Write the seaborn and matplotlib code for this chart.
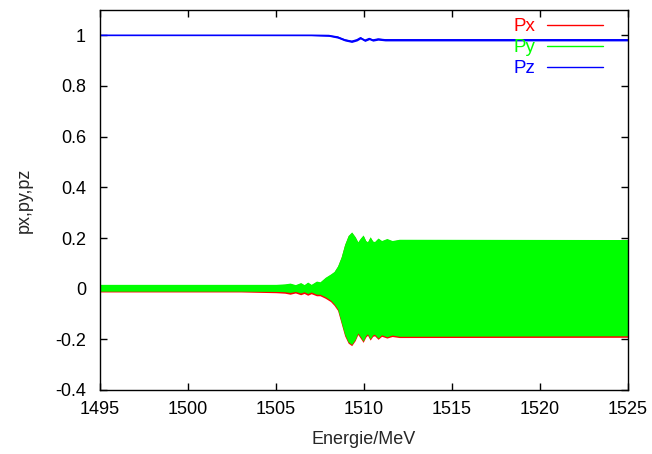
import matplotlib
matplotlib.use("Agg")
import matplotlib.pyplot as plt
from matplotlib.lines import Line2D
import seaborn as sns
import pandas as pd

# Envelope of the fast px / py oscillation
energy = [1495, 1503, 1505.0, 1505.5, 1505.8, 1506.1, 1506.4, 1506.6, 1506.8, 1507.0,
          1507.3, 1507.5, 1507.8, 1508.1, 1508.3, 1508.5, 1508.7, 1508.9, 1509.1, 1509.3,
          1509.5, 1509.65, 1509.8, 1509.95, 1510.1, 1510.2, 1510.35, 1510.5, 1510.6, 1510.8,
          1511.0, 1511.3, 1511.6, 1512.0, 1525]
py_upper = [0.017, 0.017, 0.017, 0.019, 0.022, 0.016, 0.024, 0.016, 0.026, 0.017,
            0.030, 0.027, 0.045, 0.058, 0.068, 0.090, 0.125, 0.175, 0.210, 0.224,
            0.205, 0.185, 0.200, 0.212, 0.190, 0.185, 0.205, 0.188, 0.186, 0.200,
            0.190, 0.198, 0.190, 0.195, 0.194]
py_lower = [-0.010, -0.010, -0.011, -0.012, -0.015, -0.011, -0.017, -0.012, -0.019, -0.013,
            -0.022, -0.022, -0.032, -0.045, -0.060, -0.080, -0.130, -0.180, -0.210, -0.220,
            -0.200, -0.175, -0.190, -0.207, -0.185, -0.178, -0.198, -0.182, -0.180, -0.195,
            -0.182, -0.190, -0.183, -0.188, -0.186]
px_upper = [0.015, 0.015, 0.015, 0.017, 0.020, 0.014, 0.022, 0.014, 0.024, 0.015,
            0.028, 0.025, 0.043, 0.056, 0.066, 0.088, 0.123, 0.173, 0.208, 0.222,
            0.203, 0.183, 0.198, 0.210, 0.188, 0.183, 0.203, 0.186, 0.184, 0.198,
            0.188, 0.196, 0.188, 0.193, 0.192]
px_lower = [-0.013, -0.013, -0.016, -0.018, -0.022, -0.017, -0.024, -0.019, -0.026, -0.020,
            -0.028, -0.028, -0.038, -0.051, -0.066, -0.086, -0.136, -0.186, -0.215, -0.225,
            -0.205, -0.181, -0.196, -0.212, -0.191, -0.184, -0.203, -0.188, -0.186, -0.200,
            -0.188, -0.195, -0.189, -0.193, -0.192]

# pz (slow component) and its small jitter amplitude
pz_energy = [1495, 1507.0, 1508.0, 1508.5, 1508.9, 1509.3, 1509.6, 1509.8, 1510.05,
             1510.3, 1510.5, 1510.8, 1511.2, 1525]
pz_value = [1.000, 1.000, 0.999, 0.993, 0.982, 0.976, 0.982, 0.990, 0.980,
            0.987, 0.981, 0.985, 0.982, 0.982]
pz_noise = [0.000, 0.001, 0.003, 0.004, 0.004, 0.004, 0.004, 0.004, 0.004,
            0.004, 0.004, 0.004, 0.004, 0.004]

labels = ["Px", "Py", "Pz"]
colors = ["#ff0000", "#00ff00", "#0000ff"]
x_ticks = [1495, 1500, 1505, 1510, 1515, 1520, 1525]
y_ticks = [-0.4, -0.2, 0, 0.2, 0.4, 0.6, 0.8, 1]
y_ticklabels = ["-0.4", "-0.2", "0", "0.2", "0.4", "0.6", "0.8", "1"]

sns.set_style("ticks")
plt.rcParams["font.family"] = ["Liberation Sans", "DejaVu Sans"]

fig = plt.figure(figsize=(6.52, 4.54), dpi=100)
ax = fig.add_axes([100 / 652, 64 / 454, 528 / 652, 380 / 454])

ax.fill_between(energy, px_lower, px_upper, color=colors[0], linewidth=0)
ax.fill_between(energy, py_lower, py_upper, color=colors[1], linewidth=0)

pz_df = pd.DataFrame({"E": pz_energy, "pz": pz_value})
lo = [v - n for v, n in zip(pz_value, pz_noise)]
hi = [v + n for v, n in zip(pz_value, pz_noise)]
ax.fill_between(pz_energy, lo, hi, color=colors[2], linewidth=0)
sns.lineplot(data=pz_df, x="E", y="pz", ax=ax, color=colors[2], linewidth=1.2)

ax.set_xlim(1495, 1525)
ax.set_ylim(-0.4, 1.1)
ax.set_xticks(x_ticks)
ax.set_xticklabels([str(t) for t in x_ticks])
ax.set_yticks(y_ticks)
ax.set_yticklabels(y_ticklabels)
ax.tick_params(direction="in", length=5, width=1, top=True, right=True,
               labelsize=13, colors="black")
ax.tick_params(axis="x", pad=8)
ax.tick_params(axis="y", pad=10)
for s in ax.spines.values():
    s.set_visible(True)
    s.set_linewidth(1.0)
    s.set_color("black")

ax.set_xlabel("Energie/MeV", fontsize=13, labelpad=9)
ax.set_ylabel("px,py,pz", fontsize=13, labelpad=16)

handles = [Line2D([], [], color=c, lw=1) for c in colors]
ax.legend(handles, labels, loc="upper right", bbox_to_anchor=(0.953, 0.978),
          frameon=False, markerfirst=False, labelcolor=colors, fontsize=13.5,
          handlelength=3.0, handletextpad=0.6, labelspacing=0.2,
          borderpad=0, borderaxespad=0)

fig.savefig("out.png", dpi=100)
